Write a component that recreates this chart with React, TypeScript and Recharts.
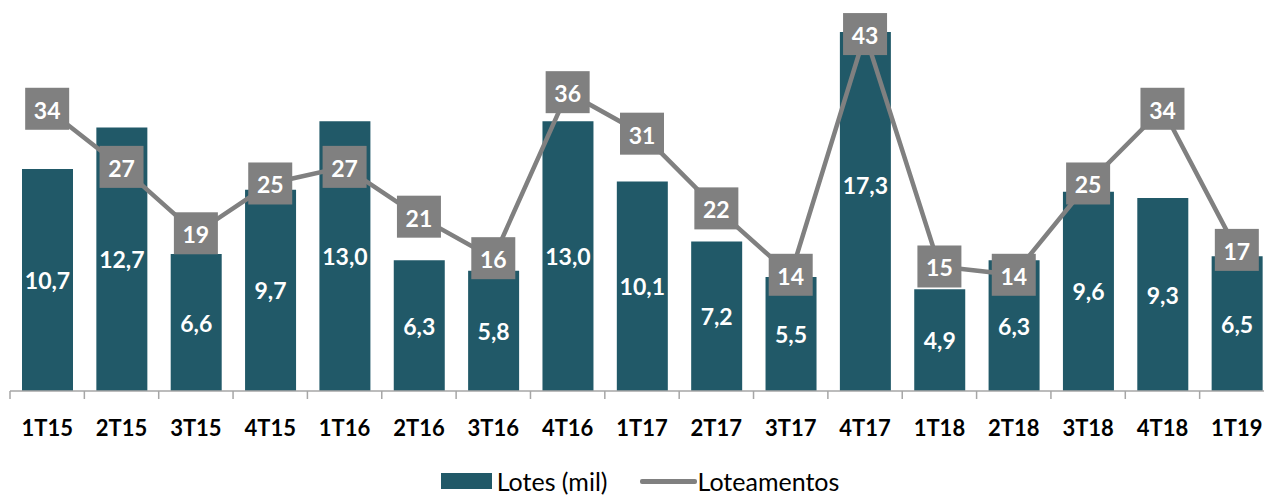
import { ComposedChart, Bar, Line, XAxis, YAxis, Legend, LabelList } from 'recharts'

const categories = ['1T15', '2T15', '3T15', '4T15', '1T16', '2T16', '3T16', '4T16', '1T17', '2T17', '3T17', '4T17', '1T18', '2T18', '3T18', '4T18', '1T19']
const lotes = [10.7, 12.7, 6.6, 9.7, 13.0, 6.3, 5.8, 13.0, 10.1, 7.2, 5.5, 17.3, 4.9, 6.3, 9.6, 9.3, 6.5]
const loteamentos = [34, 27, 19, 25, 27, 21, 16, 36, 31, 22, 14, 43, 15, 14, 25, 34, 17]

const data = categories.map((name, i) => ({
  name,
  lotes: lotes[i],
  loteamentos: loteamentos[i],
}))

const TEAL = '#215968'
const GRAY = '#808080'
const AXIS = '#A6A6A6'
const FONT = 'Lato, "Open Sans", sans-serif'

// page is offset by the 8px body margin; the plot runs a little past the right edge
const VIEW_W = 1264
const VIEW_H = 488
const CHART_W = 1266
const M_LEFT = 2
const M_RIGHT = 0
const BAND = (CHART_W - M_LEFT - M_RIGHT) / categories.length

const fmt = (v: number) => v.toFixed(1).replace('.', ',')

function AxisTick(props: any) {
  const { x, y, payload } = props
  return (
    <g>
      <line x1={x - BAND / 2} x2={x - BAND / 2} y1={y} y2={y + 8} stroke={AXIS} strokeWidth={1.5} />
      <text x={x} y={y + 45} textAnchor="middle" fontSize={22} fontWeight={700} fill="#000" fontFamily={FONT}>
        {payload.value}
      </text>
    </g>
  )
}

function BarLabel(props: any) {
  const { x, y, width, height, value, index } = props
  // the 4T17 label sits a bit higher in the original
  const nudge = index === 11 ? -27 : 0
  return (
    <text
      x={x + width / 2}
      y={y + height / 2 + nudge}
      textAnchor="middle"
      dominantBaseline="central"
      fontSize={23}
      fontWeight={700}
      fill="#fff"
      fontFamily={FONT}
    >
      {fmt(value)}
    </text>
  )
}

function BoxLabel(props: any) {
  const { x, y, value } = props
  return (
    <g>
      <rect x={x - 22} y={y - 21} width={44} height={42} fill={GRAY} />
      <text
        x={x}
        y={y + 1}
        textAnchor="middle"
        dominantBaseline="central"
        fontSize={23}
        fontWeight={700}
        fill="#fff"
        fontFamily={FONT}
      >
        {value}
      </text>
    </g>
  )
}

function LegendContent() {
  return (
    <div
      style={{
        height: 26,
        display: 'flex',
        justifyContent: 'center',
        alignItems: 'center',
        fontFamily: FONT,
        fontSize: 25,
        lineHeight: '26px',
        color: '#000',
        marginLeft: -M_LEFT,
        width: VIEW_W,
      }}
    >
      <span style={{ display: 'inline-block', width: 51, height: 16, background: TEAL, marginRight: 5 }} />
      <span style={{ marginRight: 33 }}>Lotes (mil)</span>
      <span style={{ display: 'inline-block', width: 57, height: 5, background: GRAY, borderRadius: 2 }} />
      <span>Loteamentos</span>
    </div>
  )
}

export default function App() {
  return (
    <div style={{ width: VIEW_W, height: VIEW_H, overflow: 'hidden', background: '#fff' }}>
      <ComposedChart
        width={CHART_W}
        height={VIEW_H}
        data={data}
        margin={{ top: 0, right: M_RIGHT, bottom: 2, left: M_LEFT }}
        barCategoryGap="32%"
      >
        <XAxis
          dataKey="name"
          height={77}
          tickLine={false}
          tickSize={0}
          tickMargin={0}
          axisLine={{ stroke: AXIS, strokeWidth: 1.5 }}
          tick={<AxisTick />}
          interval={0}
        />
        <YAxis yAxisId="bar" hide domain={[0, 18.46]} />
        <YAxis yAxisId="line" hide domain={[0, 46.14]} />
        <Legend verticalAlign="bottom" content={<LegendContent />} />
        <Bar yAxisId="bar" dataKey="lotes" name="Lotes (mil)" fill={TEAL} barSize={51} isAnimationActive={false}>
          <LabelList dataKey="lotes" content={<BarLabel />} />
        </Bar>
        <Line
          yAxisId="line"
          dataKey="loteamentos"
          name="Loteamentos"
          type="linear"
          stroke={GRAY}
          strokeWidth={4.5}
          dot={false}
          activeDot={false}
          isAnimationActive={false}
        >
          <LabelList dataKey="loteamentos" content={<BoxLabel />} />
        </Line>
      </ComposedChart>
    </div>
  )
}
